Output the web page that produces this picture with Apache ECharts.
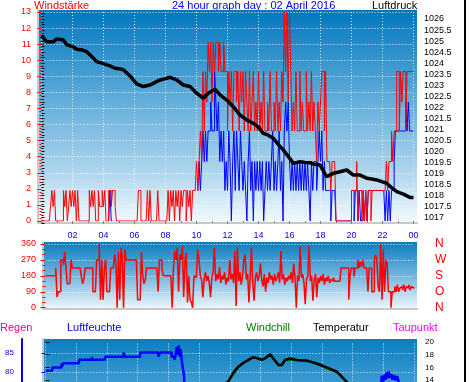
<!DOCTYPE html>
<html><head><meta charset="utf-8">
<script src="https://cdn.jsdelivr.net/npm/echarts@6/dist/echarts.min.js"></script>
<style>html,body{margin:0;padding:0;background:#fff}#c{width:470px;height:382px}</style>
</head><body><div id="c"></div>
<script>
// ---------- DATA ----------
// wind samples every 5 minutes (index i -> hour i/12), km/h
const sampleHours = 1 / 12;
const windGust = [
0,0,0,0,0,0,0, 0.9,1.9,0.9,1.9,0, 0,0,0,0,0,
1.9,0.9,1.9,0,0.9,1.9,0.9,1.9,0.9,1.9,0,1.9,0,
0,0,0,0,0,0,0, 1.9,0.9,1.9,0.9,1.9,0, 0,
1.9,0.9,0.9,1.9,0.9,1.9,0, 0, 1.9,1.9,0.9,1.9,1.9,0.9,0,
0,0,0,0,0,0,0,0,0,0,0,0,0,0,0,0,
1.9,1.9,0, 0,0,0,0, 1.9,0,1.9,0, 0,0,0,0, 1.9,0, 0,0,0,0,0,0,
1.9,0,1.9,0.9,1.9,0,1.9,0.9,1.9,0,1.9,0.9,1.9,1.9,0,1.9,0.9,1.9,0,1.9,1.9,
1.9,3.7,1.9,3.7,5.6,3.7,9.3,5.6,9.3,7.4,
11.1,9.3,11.1,7.4,11.1,9.3,11.1,11.1,9.3,11.1,
9.3,9.3,11.1,9.3,9.3,5.6,9.3,7.4,9.3,5.6,
9.3,9.3,7.4,9.3,5.6,9.3,7.4,9.3,5.6,9.3,
7.4,5.6,9.3,5.6,7.4,9.3,5.6,7.4,5.6,9.3,
5.6,7.4,5.6,9.3,5.6,5.6,7.4,5.6,9.3,5.6,
5.6,7.4,5.6,9.3,5.6,7.4,5.6,9.3,7.4,13.0,
9.3,13.0,7.4,13.0,9.3,5.6,7.4,5.6,9.3,5.6,
5.6,9.3,5.6,7.4,5.6,5.6,9.3,5.6,7.4,5.6,
9.3,5.6,7.4,5.6,3.7,7.4,5.6,7.4,9.3,9.3,
5.6,9.3,3.7,3.7,3.7,1.9,3.7,3.7,3.7,
0,0,0,0,0,0,0,0,0,0,0,0,
1.9,1.9,1.9,1.9,3.7,0,1.9,1.9,0,1.9,
0,1.9,0,1.9,1.9,0,1.9,1.9,1.9,1.9,
1.9,1.9,1.9,1.9,1.9,1.9,1.9,3.7,1.9,3.7,
3.7,5.6,3.7,5.6,5.6,9.3,9.3,5.6,9.3,7.4,
9.3,9.3,5.6,9.3,9.3,9.3,9.3,9.3, 9.3
];
const windAvg = [
null,null,null,null,null,null,null,null,null,null,null,null,null,null,null,null,null,null,null,null,
null,null,null,null,null,null,null,null,null,null,null,null,null,null,null,null,null,null,null,null,
null,null,null,null,null,null,null,null,null,null,null,null,
0,1.9,0,
null,null,null,null,null,null,null,null,null,null,null,null,null,null,null,null,null,null,null,null,
null,null,null,null,null,null,null,null,null,null,null,null,null,null,null,null,null,null,null,null,
null,null,null,null,null,null,null,null,null,null,null,null,null,null,null,null,null,null,null,null,
null,null,null,null,null,
null,
1.9,3.7,1.9,3.7,5.6,3.7,5.6,3.7,5.6,5.6,
7.4,5.6,5.6,9.3,7.4,5.6,7.4,3.7,5.6,3.7,
5.6,1.9,3.7,1.9,5.6,3.7,0,3.7,5.6,1.9,
5.6,3.7,1.9,5.6,3.7,1.9,3.7,1.9,0,3.7,
5.6,1.9,3.7,0,3.7,1.9,3.7,1.9,3.7,1.9,
3.7,0,1.9,3.7,1.9,3.7,1.9,3.7,5.6,1.9,
3.7,1.9,3.7,5.6,1.9,3.7,0,5.6,7.4,5.6,
7.4,3.7,1.9,3.7,1.9,3.7,1.9,3.7,1.9,3.7,
1.9,3.7,1.9,3.7,1.9,3.7,1.9,0,3.7,1.9,
3.7,3.7,1.9,3.7,5.6,3.7,5.6,1.9,3.7,1.9,
1.9,1.9,1.9,0,1.9,1.9,1.9,
0,0,0,0,0,0,0,0,0,0,0,0,
1.9,1.9,0,1.9,1.9,0,1.9,0,0,1.9,
0,1.9,0,1.9,1.9,1.9,1.9,1.9,1.9,1.9,
1.9,1.9,1.9,1.9,1.9,1.9,0,1.9,0,1.9,
0,1.9,1.9,3.7,5.6,5.6,5.6,5.6,5.6,5.6,
5.6,5.6,7.4,5.6,7.4,5.6,5.6,5.6, 5.6
];
// wind direction, degrees, every 5 minutes
const windDir = [
180,180,180,180,180,180,180,180,
225,60,90,90,270,270,240,315,225,135,135,135,270,
225,225,225,225,225,225,225,
180,135,160,
225,225,225,225,225,225,
90,90,90,270,270,360,45,270,45,225,270,90,90,90,225,225,225,300,250,0,315,45,340,280,0,330,
270,270,270,270,270,270,270,270,270,
45,45,45,315,180,135,160,
225,225,225,225,225,225,225,225,225,
90,270,270,225,
180,180,180,180,180,180,180,
0,225,320,270,340,90,300,270,350,60,270,310,30,180,45,30,0,180,
170,190,330,270,180,160,60,160,200,150,
180,140,60,170,200,340,150,190,160,230,
140,180,160,200,130,170,150,270,160,190,
140,320,10,340,150,200,130,180,270,300,
160,190,30,180,340,140,40,170,200,150,
180,250,160,120,190,90,170,140,200,160,
180,130,190,150,170,200,140,320,160,190,
130,170,150,
180,160,200,140,250,170,0,180,150,
345,170,190,140,20,160,180,350,150,180,
40,160,190,60,170,140,180,150,190,130,
170,150,180,140,160,150,170,150,150,
150,150,150,
225,225,225,225,225,225,45,180,225,
225,175,225,225,270,225,260,230,270,225,
225,
225,90,225,225,90,90,270,300,270,120,
90,360,45,330,90,270,250,90,90,0,
90,90,120,90,130,90,110,120,100,130,
90,120,110,130,100,120,110,115
];
const pressureHours = [0,0.34,0.76,1.0,1.41,1.63,2.0,2.27,2.6,2.92,3.24,3.56,3.9,4.21,4.5,4.74,5.0,5.28,5.71,6.14,
6.57,7.0,7.3,7.65,8.0,8.29,8.72,9.15,9.58,10.01,10.44,10.76,11.19,11.52,11.95,12.37,12.81,13.24,13.66,14.0,
14.31,14.6,14.95,15.3,15.6,16.0,16.25,16.68,17.0,17.32,17.6,17.97,18.2,18.4,18.83,19.26,19.69,20.12,20.55,20.98,
21.3,21.63,22.0,22.27,22.6,22.92,23.34,23.77,24.0];
const pressureValues = [1025.23,1024.97,1024.97,1025.1,1025.05,1024.83,1024.75,1024.63,1024.6,1024.52,1024.30,1024.07,1024.0,1023.92,1023.85,1023.77,1023.75,1023.70,1023.42,1023.06,
1022.94,1023.01,1023.12,1023.24,1023.3,1023.36,1023.24,1023.01,1022.94,1022.64,1022.41,1022.64,1022.82,1022.56,1022.33,1022.03,1021.65,1021.43,1021.28,1021.1,
1020.82,1020.75,1020.60,1020.3,1020.07,1019.7,1019.46,1019.54,1019.5,1019.49,1019.42,1019.39,1019.1,1018.86,1019.01,1019.08,1019.16,1018.93,1018.93,1018.79,
1018.75,1018.71,1018.62,1018.56,1018.35,1018.18,1018.07,1017.92,1017.92];
const humHours = [0,0.44,1.05,1.1,1.15,2.18,3.01,3.06,3.45,3.5,3.6,3.7,3.88,5.08,5.18,6.16,7.35,7.46,8.22,8.4,
8.45,8.55,8.62,8.68,8.75,8.8,8.87,8.98,9.02,9.07,9.12,9.2,10,14,18,21,21.5,21.85,21.9,22.0,
22.05,22.15,22.2,22.3,22.35,22.45,22.5,22.6,22.7,22.8,22.9,23.0,23.1,23.5,24];
const humValues = [80.3,81.2,82.3,81.6,82.3,83.2,83.9,83.2,83.7,83.2,83.7,83.2,84.0,85.1,84.0,85.1,84.0,85.1,84.0,83.2,
84.0,86.6,84.5,87.0,84.0,86.0,83.2,83.2,79,74,68,62,58,52,55,60,68,76,79.0,77.5,
79.3,78,79.9,78.4,80.1,78.5,79.5,78.0,79.2,77.8,78.9,77.5,76,73,72];
const tempHours = [0,3,6,9,10.5,11.5,11.89,12.02,12.23,12.56,12.89,13.21,13.54,13.76,14.08,14.3,14.63,14.84,15.17,15.39,
15.6,15.93,16.36,17.02,17.67,18.32,18.97,19.4,19.62,19.84,20.5,22,24];
const tempValues = [9.5,8.8,8.5,10,12,13.2,13.7,14.26,15.15,16.1,16.7,17.16,17.6,17.45,17.16,17.4,18.05,17.4,16.37,16.37,
17.16,17.4,17.16,17.05,16.6,16.0,15.3,14.26,13.7,13.2,12.5,11.8,11];
const chillValues = [9.5,8.8,8.5,10,12,13.2,13.7,14.2,14.9,16.1,16.7,17.16,17.6,17.45,17.16,17.4,18.05,17.4,16.37,16.37,
17.16,17.25,17.16,17.05,16.6,15.85,15.3,14.26,13.7,13.2,12.5,11.8,11];
const hourLabels = ['02','04','06','08','10','12','14','16','18','20','22','00'];
const compassLabels = ['N','O','S','W','N'];
const humidityTicks = [65,70,75,80,85];

// ---------- CHART ----------
const F = 'Liberation Sans, Arial, sans-serif';
const slot = (arr) => arr.map((v, i) => [i * sampleHours, v === null ? '-' : v]);
const pairs = (xs, ys) => xs.map((x, i) => [x, ys[i]]);
const dotted = { show: true, lineStyle: { color: 'rgba(255,255,255,0.85)', type: [1, 2], width: 1 } };
const grad = (stops) => new echarts.graphic.LinearGradient(0, 0, 0, 1, stops.map((c) => ({ offset: c[0], color: c[1] })));
const hidden = (g, extra) => Object.assign({ type: 'value', gridIndex: g, min: 0, max: 1, axisLine: { show: false }, axisTick: { show: false }, axisLabel: { show: false }, splitLine: { show: false } }, extra || {});
const grayLine = { show: true, onZero: false, lineStyle: { color: '#c8c8c8', width: 2 } };
const timeAxis = (g, extra) => Object.assign({ type: 'value', gridIndex: g, min: 0, max: 24, interval: 2, axisLine: { show: false }, axisTick: { show: false }, axisLabel: { show: false }, splitLine: { show: false } }, extra || {});
const G = (o) => Object.assign({ outerBoundsMode: 'none', containLabel: false }, o);

const chart = echarts.init(document.getElementById('c'), null, { renderer: 'canvas' });
chart.setOption({
  animation: false,
  backgroundColor: '#fff',
  grid: [
    G({ left: 38, top: 10, width: 379, height: 213, show: true, borderWidth: 0,
      backgroundColor: grad([[0, '#0078be'], [0.45, '#68b0db'], [0.75, '#acd4ed'], [1, '#f3f9fd']]) }),
    G({ left: 41.5, top: 12, width: 372, height: 209 }),
    G({ left: 41.5, top: 13.48, width: 372, height: 209.74 }),
    G({ left: 43, top: 242, width: 374, height: 67, show: true, borderWidth: 0,
      backgroundColor: grad([[0, '#0a7ec0'], [0.5, '#72b5dd'], [1, '#f0f7fc']]) }),
    G({ left: 45.5, top: 244, width: 368.5, height: 63.7 }),
    G({ left: 43, top: 339, width: 374, height: 100, show: true, borderWidth: 0,
      backgroundColor: grad([[0, '#0a7ec0'], [0.43, '#3c9bd2'], [1, '#d8ecf8']]) }),
    G({ left: 45.5, top: 343.5, width: 368.5, height: 95 }),
    G({ left: 45.5, top: 338.8, width: 368.5, height: 104.5 })
  ],
  xAxis: [
    hidden(0, { axisLine: grayLine }),
    timeAxis(1, { offset: 2,
      axisTick: { show: true, length: 3, lineStyle: { color: '#808080' } },
      minorTick: { show: true, splitNumber: 2, length: 2, lineStyle: { color: '#808080' } },
      axisLabel: { show: true, color: '#0000ff', fontSize: 9, fontFamily: F, margin: 8, showMinLabel: false,
        formatter: (v) => hourLabels[Math.round(v / 2) - 1] || '' },
      splitLine: dotted }),
    timeAxis(2),
    hidden(3, { axisLine: grayLine }),
    timeAxis(4),
    hidden(5),
    timeAxis(6, { splitLine: dotted }),
    timeAxis(7)
  ],
  yAxis: [
    hidden(0, { axisLine: grayLine }),
    { type: 'value', gridIndex: 1, min: 0, max: 13, interval: 1, position: 'left', offset: 3.5,
      axisLine: { show: false },
      axisTick: { show: true, length: 4, lineStyle: { color: '#ff0000' } },
      minorTick: { show: true, splitNumber: 5, length: 2, lineStyle: { color: '#ff0000' } },
      axisLabel: { color: '#ff0000', fontSize: 9, fontFamily: F, margin: 7 },
      splitLine: dotted },
    { type: 'value', gridIndex: 2, min: 1016.75, max: 1026.25, interval: 0.25, position: 'right', offset: 4.5,
      axisLine: { show: false },
      axisTick: { show: true, length: 3, lineStyle: { color: '#000' } },
      minorTick: { show: true, splitNumber: 2, length: 2, lineStyle: { color: '#000' } },
      axisLabel: { color: '#000', fontSize: 9, fontFamily: F, margin: 6,
        formatter: (v) => (Math.abs(v * 2 - Math.round(v * 2)) < 1e-6 ? String(Math.round(v * 2) / 2) : '') },
      splitLine: { show: false } },
    hidden(3, { axisLine: grayLine }),
    { type: 'value', gridIndex: 4, min: 0, max: 360, interval: 90, position: 'left', offset: 2.5,
      axisLine: { show: false },
      axisTick: { show: true, length: 5, lineStyle: { color: '#ff0000' } },
      minorTick: { show: true, splitNumber: 3, length: 3, lineStyle: { color: '#ff0000' } },
      axisLabel: { color: '#ff0000', fontSize: 9, fontFamily: F, margin: 7 },
      splitLine: dotted },
    { type: 'value', gridIndex: 4, min: 0, max: 360, interval: 90, position: 'right',
      axisLine: { show: false }, axisTick: { show: false }, splitLine: { show: false },
      axisLabel: { color: '#ff0000', fontSize: 12, fontFamily: F, margin: 21,
        formatter: (v) => compassLabels[Math.round(v / 90)] } },
    hidden(5, { axisLine: grayLine }),
    hidden(5, { position: 'left', offset: 21, axisLine: { show: true, onZero: false, lineStyle: { color: '#0000ff', width: 2 } } }),
    { type: 'value', gridIndex: 6, min: 62.5, max: 87.5, interval: 5, position: 'left', offset: 23.5,
      axisLine: { show: false },
      axisTick: { show: true, length: 4, customValues: humidityTicks, lineStyle: { color: '#0000ff' } },
      axisLabel: { color: '#0000ff', fontSize: 8, fontFamily: F, margin: 8, customValues: humidityTicks },
      splitLine: dotted },
    { type: 'value', gridIndex: 7, min: 4, max: 20.5, interval: 2, position: 'right', offset: 4,
      axisLine: { show: false },
      axisTick: { show: true, length: 4, lineStyle: { color: '#000' } },
      axisLabel: { color: '#000', fontSize: 8, fontFamily: F, margin: 7, showMaxLabel: false },
      splitLine: { show: false } }
  ],
  series: [
    { name: 'Wind', type: 'line', xAxisIndex: 1, yAxisIndex: 1, step: 'end', symbol: 'none', z: 3,
      lineStyle: { color: '#0000ff', width: 1 }, data: slot(windAvg) },
    { name: 'Böen', type: 'line', xAxisIndex: 1, yAxisIndex: 1, step: 'end', symbol: 'none', z: 4,
      lineStyle: { color: '#ff0000', width: 1 }, data: slot(windGust) },
    { name: 'Luftdruck', type: 'line', xAxisIndex: 2, yAxisIndex: 2, symbol: 'none', z: 5,
      lineStyle: { color: '#000', width: 3.5 }, data: pairs(pressureHours, pressureValues) },
    { name: 'Windrichtung', type: 'line', xAxisIndex: 4, yAxisIndex: 4, step: 'end', symbol: 'none', z: 3,
      lineStyle: { color: '#ff0000', width: 1.5 }, data: slot(windDir) },
    { name: 'Luftfeuchte', type: 'line', xAxisIndex: 6, yAxisIndex: 8, step: 'end', symbol: 'none', z: 3,
      lineStyle: { color: '#0000ff', width: 2.5 }, data: pairs(humHours, humValues) },
    { name: 'Windchill', type: 'line', xAxisIndex: 7, yAxisIndex: 9, symbol: 'none', z: 3,
      lineStyle: { color: '#008000', width: 2.5 }, data: pairs(tempHours, chillValues) },
    { name: 'Temperatur', type: 'line', xAxisIndex: 7, yAxisIndex: 9, symbol: 'none', z: 4,
      lineStyle: { color: '#000', width: 2.5 }, data: pairs(tempHours, tempValues) }
  ],
  graphic: [
    { type: 'rect', z: 100, shape: { x: 464, y: 0, width: 2, height: 382 }, style: { fill: '#000' } },
    { type: 'text', z: -10, x: 34, y: 5.5, style: { text: 'Windstärke', fill: '#ff0000', font: '11px ' + F, verticalAlign: 'middle' } },
    { type: 'text', z: -10, x: 172, y: 5.5, style: { text: '24 hour graph day : 02 April 2016', fill: '#0000ff', font: '11px ' + F, verticalAlign: 'middle' } },
    { type: 'text', z: -10, x: 372, y: 5.5, style: { text: 'Luftdruck', fill: '#000', font: '11px ' + F, verticalAlign: 'middle' } },
    { type: 'text', x: 0, y: 327.5, style: { text: 'Regen', fill: '#ff0080', font: '11px ' + F, verticalAlign: 'middle' } },
    { type: 'text', x: 67, y: 327.5, style: { text: 'Luftfeuchte', fill: '#0000ff', font: '11px ' + F, verticalAlign: 'middle' } },
    { type: 'text', x: 246, y: 327.5, style: { text: 'Windchill', fill: '#008000', font: '11px ' + F, verticalAlign: 'middle' } },
    { type: 'text', x: 313, y: 327.5, style: { text: 'Temperatur', fill: '#000', font: '11px ' + F, verticalAlign: 'middle' } },
    { type: 'text', x: 393, y: 327.5, style: { text: 'Taupunkt', fill: '#ff00ff', font: '11px ' + F, verticalAlign: 'middle' } }
  ]
});
</script>
</body></html>
